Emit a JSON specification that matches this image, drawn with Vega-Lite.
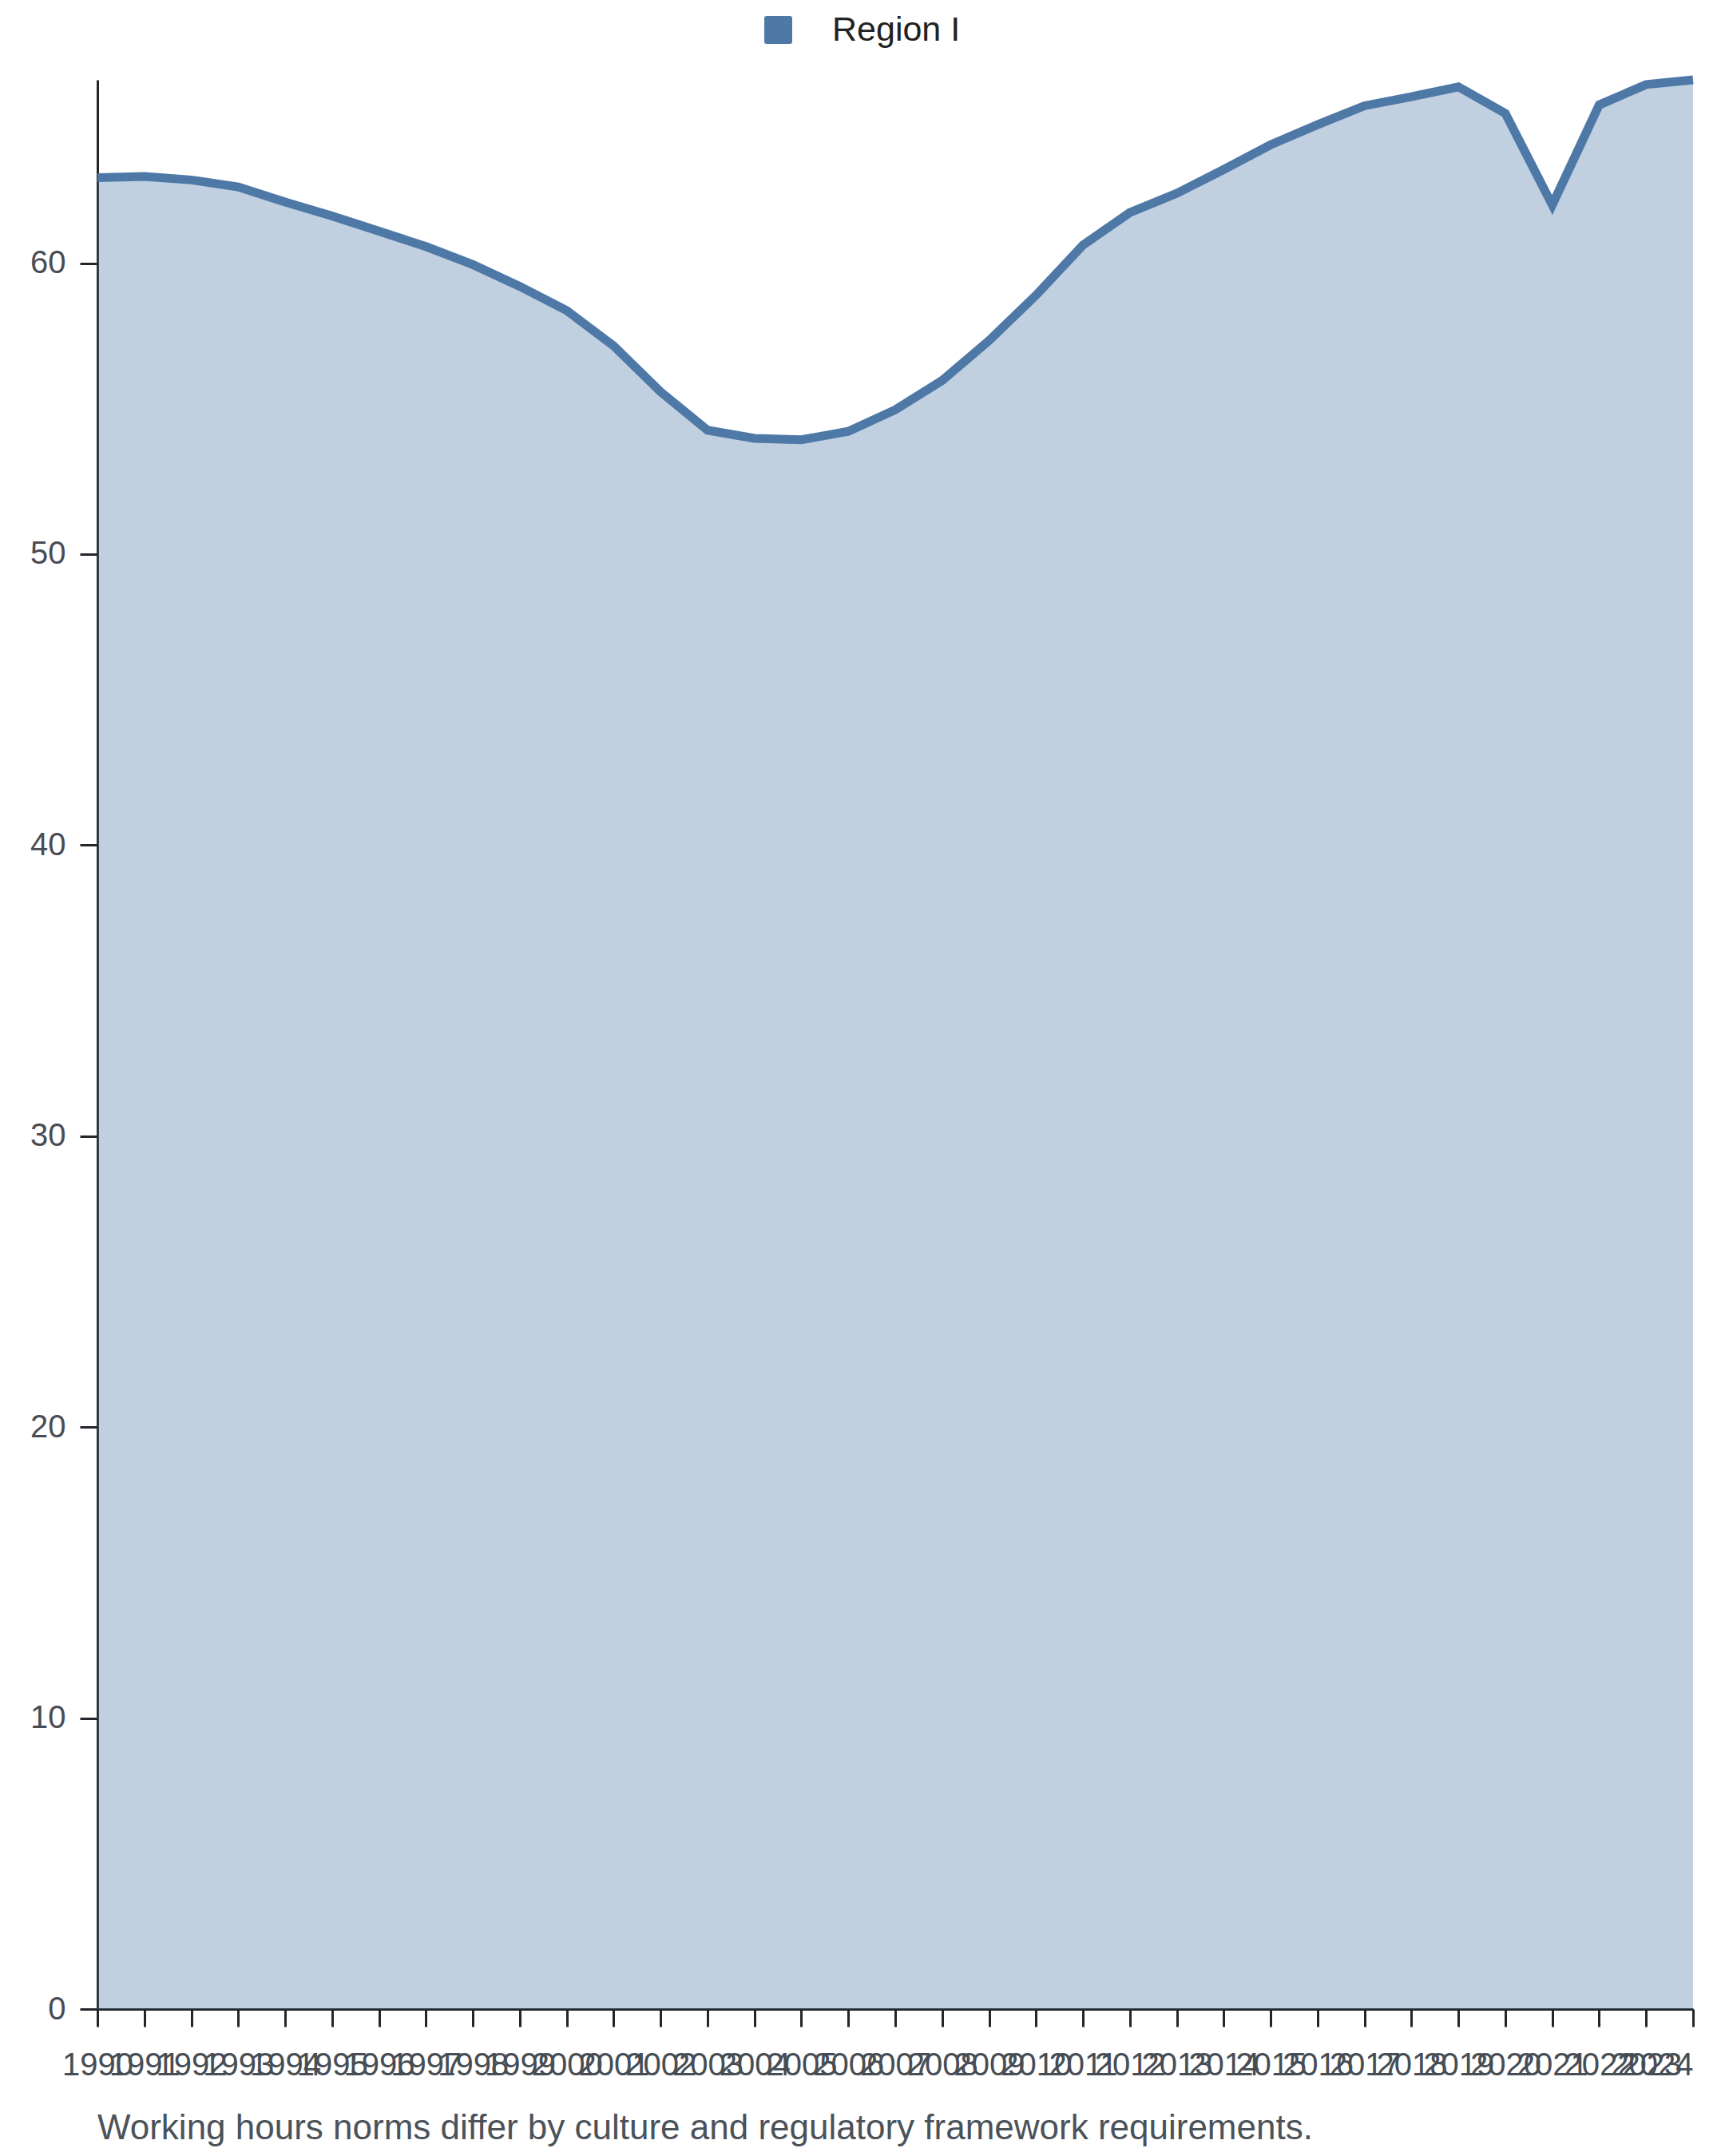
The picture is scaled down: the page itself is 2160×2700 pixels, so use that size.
{
  "$schema": "https://vega.github.io/schema/vega-lite/v6.json",
  "width": 1998,
  "height": 2416,
  "autosize": {"type": "none"},
  "padding": {"left": 122, "top": 100, "right": 40, "bottom": 184},
  "background": "white",
  "title": {
    "text": "Working hours norms differ by culture and regulatory framework requirements.",
    "orient": "bottom",
    "anchor": "start",
    "frame": "group",
    "offset": 38,
    "fontSize": 44,
    "fontWeight": "normal",
    "font": "Liberation Sans",
    "color": "#4b5259"
  },
  "data": {
    "values": [
      {"year": 1990, "value": 62.94, "series": "Region I"},
      {"year": 1991, "value": 62.98, "series": "Region I"},
      {"year": 1992, "value": 62.86, "series": "Region I"},
      {"year": 1993, "value": 62.62, "series": "Region I"},
      {"year": 1994, "value": 62.10, "series": "Region I"},
      {"year": 1995, "value": 61.62, "series": "Region I"},
      {"year": 1996, "value": 61.10, "series": "Region I"},
      {"year": 1997, "value": 60.57, "series": "Region I"},
      {"year": 1998, "value": 59.95, "series": "Region I"},
      {"year": 1999, "value": 59.20, "series": "Region I"},
      {"year": 2000, "value": 58.37, "series": "Region I"},
      {"year": 2001, "value": 57.16, "series": "Region I"},
      {"year": 2002, "value": 55.58, "series": "Region I"},
      {"year": 2003, "value": 54.26, "series": "Region I"},
      {"year": 2004, "value": 53.98, "series": "Region I"},
      {"year": 2005, "value": 53.93, "series": "Region I"},
      {"year": 2006, "value": 54.22, "series": "Region I"},
      {"year": 2007, "value": 54.96, "series": "Region I"},
      {"year": 2008, "value": 55.97, "series": "Region I"},
      {"year": 2009, "value": 57.34, "series": "Region I"},
      {"year": 2010, "value": 58.90, "series": "Region I"},
      {"year": 2011, "value": 60.62, "series": "Region I"},
      {"year": 2012, "value": 61.74, "series": "Region I"},
      {"year": 2013, "value": 62.40, "series": "Region I"},
      {"year": 2014, "value": 63.22, "series": "Region I"},
      {"year": 2015, "value": 64.07, "series": "Region I"},
      {"year": 2016, "value": 64.76, "series": "Region I"},
      {"year": 2017, "value": 65.41, "series": "Region I"},
      {"year": 2018, "value": 65.72, "series": "Region I"},
      {"year": 2019, "value": 66.06, "series": "Region I"},
      {"year": 2020, "value": 65.15, "series": "Region I"},
      {"year": 2021, "value": 62.00, "series": "Region I"},
      {"year": 2022, "value": 65.44, "series": "Region I"},
      {"year": 2023, "value": 66.14, "series": "Region I"},
      {"year": 2024, "value": 66.30, "series": "Region I"}
    ]
  },
  "encoding": {
    "x": {
      "field": "year",
      "type": "quantitative",
      "scale": {"domain": [1990, 2024], "nice": false, "zero": false},
      "axis": {
        "title": null,
        "values": [1990, 1991, 1992, 1993, 1994, 1995, 1996, 1997, 1998, 1999, 2000, 2001, 2002, 2003, 2004, 2005, 2006, 2007, 2008, 2009, 2010, 2011, 2012, 2013, 2014, 2015, 2016, 2017, 2018, 2019, 2020, 2021, 2022, 2023, 2024],
        "format": "d",
        "labelOverlap": false,
        "labelFlush": false,
        "labelPadding": 28,
        "labelAlign": {"condition": {"test": "datum.value == 2024", "value": "right"}, "value": "center"}
      }
    },
    "y": {
      "field": "value",
      "type": "quantitative",
      "scale": {"domain": [0, 66.3], "nice": false, "zero": true},
      "axis": {
        "title": null,
        "values": [0, 10, 20, 30, 40, 50, 60],
        "labelPadding": 18
      }
    },
    "color": {
      "field": "series",
      "type": "nominal",
      "scale": {"range": ["#4e79a7"]},
      "legend": {
        "title": null,
        "orient": "none",
        "legendX": 831,
        "legendY": -84,
        "padding": 0,
        "symbolSize": 1225,
        "symbolType": "M-0.83,-1L0.83,-1Q1,-1 1,-0.83L1,0.83Q1,1 0.83,1L-0.83,1Q-1,1 -1,0.83L-1,-0.83Q-1,-1 -0.83,-1Z",
        "symbolOpacity": 1,
        "symbolFillColor": "#4e79a7",
        "symbolStrokeWidth": 0,
        "labelFontSize": 43,
        "labelFont": "Liberation Sans",
        "labelColor": "#222222",
        "labelLimit": 0,
        "labelOffset": 46
      }
    }
  },
  "layer": [
    {"mark": {"type": "area", "fillOpacity": 0.35, "clip": false}},
    {"mark": {"type": "line", "strokeWidth": 11, "strokeJoin": "miter", "clip": false}}
  ],
  "config": {
    "view": {"stroke": null},
    "font": "Liberation Sans",
    "axis": {
      "grid": false,
      "domainColor": "#22252a",
      "domainWidth": 3,
      "tickColor": "#22252a",
      "tickWidth": 3,
      "tickSize": 22,
      "labelColor": "#474d54",
      "labelFontSize": 40,
      "labelFont": "Liberation Sans"
    }
  }
}
